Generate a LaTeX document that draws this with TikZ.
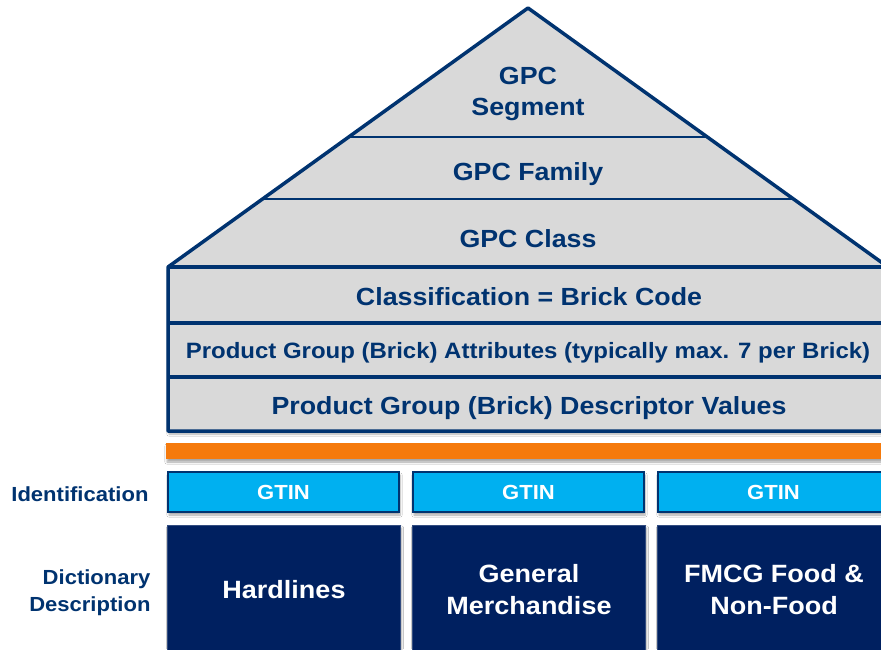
\documentclass[tikz,border=0pt]{standalone}
\usepackage{fontspec}
\setmainfont[FakeStretch=1.08]{Liberation Sans}
\usetikzlibrary{shadows.blur}
\definecolor{navy}{RGB}{0,51,112}
\definecolor{housegrey}{RGB}{217,217,217}
\definecolor{barorange}{RGB}{245,122,12}
\definecolor{gtincyan}{RGB}{0,176,240}
\definecolor{boxnavy}{RGB}{0,32,96}
\tikzset{
  softshadow/.style={blur shadow={shadow blur steps=6, shadow xshift=1pt, shadow yshift=-3pt, shadow opacity=35}},
  housetext/.style={text=navy, font=\bfseries\fontsize{24.8}{31}\selectfont, align=center},
  attrtext/.style={text=navy, font=\bfseries\fontsize{22.2}{24}\selectfont},
  gtinbox/.style={draw=navy, line width=2pt, fill=gtincyan, minimum width=231pt, minimum height=40pt, text=white, font=\bfseries\fontsize{20.4}{22}\selectfont, softshadow},
  catbox/.style={fill=boxnavy, draw=boxnavy!80!white, line width=1pt, minimum width=233pt, minimum height=130pt, text=white, align=center, font=\bfseries\fontsize{25}{32}\selectfont, softshadow},
  sidelabel/.style={text=navy, font=\bfseries\fontsize{20.4}{27}\selectfont, align=right, anchor=east},
  thinrule/.style={draw=navy, line width=1.8pt},
  thickrule/.style={draw=navy, line width=3.2pt}
}
\begin{document}
\begin{tikzpicture}[x=1pt,y=-1pt]
\useasboundingbox (0,0) rectangle (881,649);
\fill[white] (0,0) rectangle (881,649);
\begin{scope}
\clip (0,0) rectangle (881,649);
% house
\path[fill=housegrey, draw=navy, line width=3.5pt, line join=round, softshadow]
  (168,431) -- (168,267) -- (528,8) -- (888,267) -- (888,431) -- cycle;
\coordinate (r1l) at (348.7,137); \coordinate (r1r) at (707.3,137);
\coordinate (r2l) at (262.5,199); \coordinate (r2r) at (793.5,199);
\coordinate (r3l) at (168,267); \coordinate (r3r) at (888,267);
\coordinate (r4l) at (168,323); \coordinate (r4r) at (888,323);
\coordinate (r5l) at (168,377); \coordinate (r5r) at (888,377);
\draw[thinrule] (r1l) -- (r1r);
\draw[thinrule] (r2l) -- (r2r);
\draw[thickrule] (r3l) -- (r3r);
\draw[thickrule] (r4l) -- (r4r);
\draw[thickrule] (r5l) -- (r5r);
\node[housetext] (seg) at (528,94) {GPC\\Segment};
\node[housetext] (fam) at (528,174) {GPC Family};
\node[housetext] (cls) at (528,239) {GPC Class};
\node[housetext] (brick) at (529,297) {Classification = Brick Code};
\node[attrtext] (attr) at (528,353) {Product Group (Brick) Attributes (typically max. 7 per Brick)};
\node[housetext] (desc) at (529,408) {Product Group (Brick) Descriptor Values};
% orange bar
\path[fill=barorange, softshadow] (166,443) rectangle (895,459);
% GTIN
\node[gtinbox] (gtin1) at (283.5,492) {GTIN};
\node[gtinbox] (gtin2) at (528.5,492) {GTIN};
\node[gtinbox] (gtin3) at (773.5,492) {GTIN};
% category boxes
\node[catbox] (hl) at (284,590) {Hardlines};
\node[catbox] (gm) at (529,590) {General\\Merchandise};
\node[catbox] (fmcg) at (774,590) {FMCG Food \&\\Non-Food};
% side labels
\node[sidelabel] (ident) at (152,494) {Identification};
\node[sidelabel] (dict) at (154,593) {Dictionary\\Description};
\end{scope}
\end{tikzpicture}
\end{document}
